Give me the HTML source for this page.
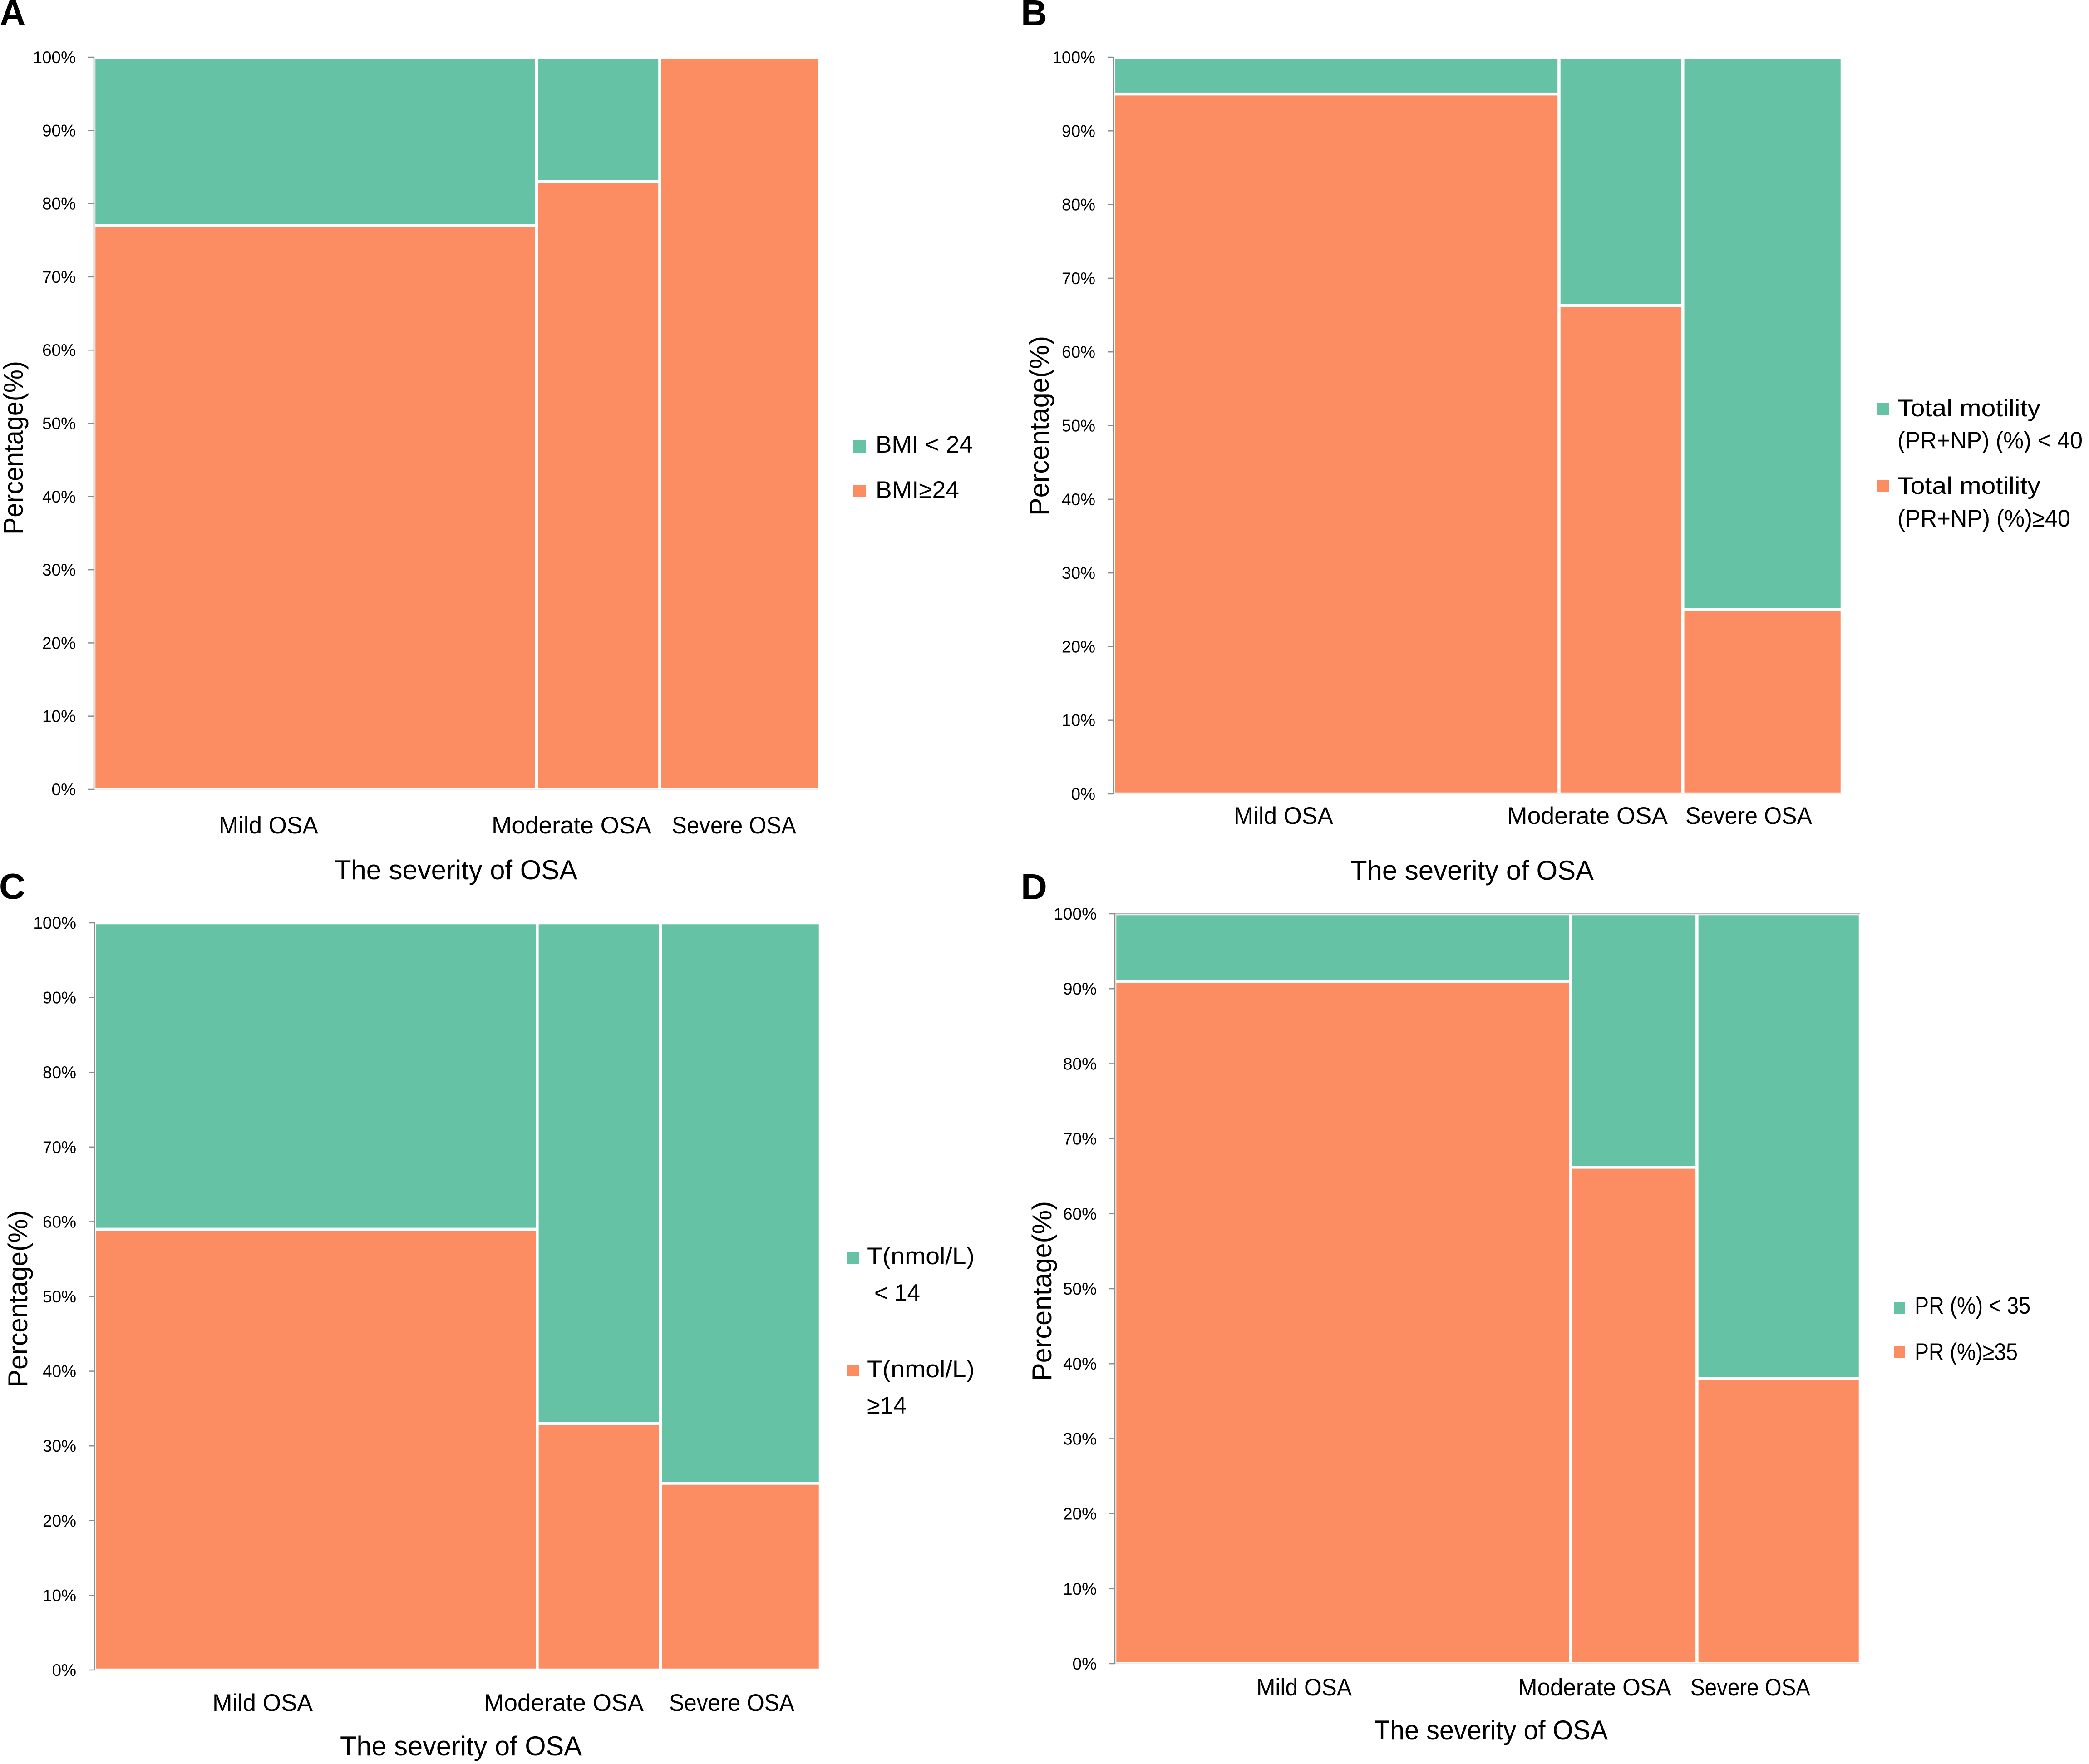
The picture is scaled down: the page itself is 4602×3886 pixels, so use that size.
<!DOCTYPE html>
<html lang="en">
<head>
<meta charset="utf-8">
<title>Mosaic plots of OSA severity</title>
<style>
  html, body { margin: 0; padding: 0; background: #ffffff; }
  svg { display: block; }
  text { font-family: "Liberation Sans", sans-serif; fill: #000000; }
  .panel-letter { font-size: 80px; font-weight: 700; }
  .axis-title { font-size: 60px; }
  .cat-label, .legend-text { font-size: 53px; }
  .tick-label { font-size: 37px; }
</style>
</head>
<body>
<svg id="figure" xmlns="http://www.w3.org/2000/svg" width="4602" height="3886" viewBox="0 0 4602 3886">
  <rect x="0" y="0" width="4602" height="3886" fill="#ffffff"/>

  <g id="panel-a">
    <text class="panel-letter" x="-1" y="56">A</text>
    <text class="axis-title" transform="translate(50,1178) rotate(-90)" x="0" y="0" textLength="383" lengthAdjust="spacingAndGlyphs">Percentage(%)</text>
    <text class="axis-title" x="737" y="1937" textLength="535" lengthAdjust="spacingAndGlyphs">The severity of OSA</text>
    <rect x="1880" y="970" width="27" height="27" fill="#66c2a5"/>
    <text class="legend-text" x="1929" y="997" textLength="214" lengthAdjust="spacingAndGlyphs">BMI &lt; 24</text>
    <rect x="1880" y="1068" width="27" height="27" fill="#fc8d62"/>
    <text class="legend-text" x="1929" y="1097" textLength="184" lengthAdjust="spacingAndGlyphs">BMI≥24</text>
  </g>

  <g id="panel-b">
    <text class="panel-letter" x="2249" y="56">B</text>
    <text class="axis-title" transform="translate(2310,1136) rotate(-90)" x="0" y="0" textLength="396" lengthAdjust="spacingAndGlyphs">Percentage(%)</text>
    <text class="axis-title" x="2975" y="1938" textLength="536" lengthAdjust="spacingAndGlyphs">The severity of OSA</text>
    <rect x="4136" y="888" width="26" height="26" fill="#66c2a5"/>
    <text class="legend-text" x="4180" y="917" textLength="315" lengthAdjust="spacingAndGlyphs">Total motility</text>
    <text class="legend-text" x="4180" y="988" textLength="408" lengthAdjust="spacingAndGlyphs">(PR+NP) (%) &lt; 40</text>
    <rect x="4136" y="1057" width="26" height="26" fill="#fc8d62"/>
    <text class="legend-text" x="4180" y="1088" textLength="315" lengthAdjust="spacingAndGlyphs">Total motility</text>
    <text class="legend-text" x="4180" y="1160" textLength="381" lengthAdjust="spacingAndGlyphs">(PR+NP) (%)≥40</text>
  </g>

  <g id="panel-c">
    <text class="panel-letter" x="-2" y="1980">C</text>
    <text class="axis-title" transform="translate(60,3056) rotate(-90)" x="0" y="0" textLength="390" lengthAdjust="spacingAndGlyphs">Percentage(%)</text>
    <text class="axis-title" x="749" y="3867" textLength="533" lengthAdjust="spacingAndGlyphs">The severity of OSA</text>
    <rect x="1866" y="2759" width="26" height="26" fill="#66c2a5"/>
    <text class="legend-text" x="1910" y="2785" textLength="237" lengthAdjust="spacingAndGlyphs">T(nmol/L)</text>
    <text class="legend-text" x="1926" y="2866" textLength="101" lengthAdjust="spacingAndGlyphs">&lt; 14</text>
    <rect x="1866" y="3006" width="26" height="26" fill="#fc8d62"/>
    <text class="legend-text" x="1910" y="3034" textLength="237" lengthAdjust="spacingAndGlyphs">T(nmol/L)</text>
    <text class="legend-text" x="1910" y="3114" textLength="87" lengthAdjust="spacingAndGlyphs">≥14</text>
  </g>

  <g id="panel-d">
    <text class="panel-letter" x="2249" y="1981">D</text>
    <text class="axis-title" transform="translate(2316,3042) rotate(-90)" x="0" y="0" textLength="396" lengthAdjust="spacingAndGlyphs">Percentage(%)</text>
    <text class="axis-title" x="3027" y="3832" textLength="515" lengthAdjust="spacingAndGlyphs">The severity of OSA</text>
    <rect x="4172" y="2868" width="25" height="26" fill="#66c2a5"/>
    <text class="legend-text" x="4218" y="2894" textLength="255" lengthAdjust="spacingAndGlyphs">PR (%) &lt; 35</text>
    <rect x="4172" y="2966" width="25" height="26" fill="#fc8d62"/>
    <text class="legend-text" x="4218" y="2996" textLength="227" lengthAdjust="spacingAndGlyphs">PR (%)≥35</text>
  </g>
</svg>

<script>
// ---- chart data ----
const categories = ['Mild OSA', 'Moderate OSA', 'Severe OSA'];
const tickValues = [0, 10, 20, 30, 40, 50, 60, 70, 80, 90, 100];

// Column widths (share of patients, %) per panel
const columnSharesA = [61, 17, 22];
const columnSharesB = [61.15, 17, 21.85];
const columnSharesC = [61, 17, 22];
const columnSharesD = [61.1, 17, 21.9];

// Orange segment height (% of each column); green fills the rest up to 100
const lowerValuesA = [77, 83, 100];
const lowerValuesB = [95, 66.3, 25];
const lowerValuesC = [59, 33, 25];
const lowerValuesD = [91, 66.2, 38];

// ---- layout (not data) ----
const SVG_NS = 'http://www.w3.org/2000/svg';
const GREEN = '#66c2a5';
const ORANGE = '#fc8d62';
const INSET = 3.25;

const panels = [
  { id: 'a', shares: columnSharesA, lower: lowerValuesA, x0: 207, x1: 1805, y0: 1739, y100: 126,
    labelBaseline: 1836, labelSpans: [[482, 701], [1083, 1435], [1480, 1754]], topLine: false },
  { id: 'b', shares: columnSharesB, lower: lowerValuesB, x0: 2453, x1: 4058, y0: 1749, y100: 126,
    labelBaseline: 1815, labelSpans: [[2718, 2937], [3320, 3674], [3713, 3992]], topLine: false },
  { id: 'c', shares: columnSharesC, lower: lowerValuesC, x0: 208, x1: 1807, y0: 3679, y100: 2033,
    labelBaseline: 3769, labelSpans: [[468, 689], [1066, 1418], [1474, 1750]], topLine: false },
  { id: 'd', shares: columnSharesD, lower: lowerValuesD, x0: 2456, x1: 4098, y0: 3665, y100: 2013,
    labelBaseline: 3735, labelSpans: [[2768, 2978], [3344, 3682], [3724, 3988]], topLine: true }
];

function svgEl(tag, attrs) {
  const el = document.createElementNS(SVG_NS, tag);
  for (const key in attrs) {
    el.setAttribute(key, attrs[key]);
  }
  return el;
}

function drawPanel(p) {
  const group = document.getElementById('panel-' + p.id);
  const totalShare = p.shares.reduce(function (a, b) { return a + b; }, 0);
  const xScale = function (share) { return p.x0 + (share / totalShare) * (p.x1 - p.x0); };
  const yScale = function (value) { return p.y0 + (value / 100) * (p.y100 - p.y0); };

  // mosaic segments
  let cumulative = 0;
  p.shares.forEach(function (share, i) {
    const left = xScale(cumulative) + INSET;
    const right = xScale(cumulative + share) - INSET;
    cumulative += share;
    const split = yScale(p.lower[i]);
    const catKey = categories[i].split(' ')[0].toLowerCase();

    const upperHeight = split - INSET - (yScale(100) + INSET);
    if (upperHeight > 0) {
      const upper = svgEl('rect', { x: left, y: yScale(100) + INSET, width: right - left, height: upperHeight, fill: GREEN });
      
      
      group.appendChild(upper);
    }
    const lowerTop = p.lower[i] >= 100 ? yScale(100) + INSET : split + INSET;
    const lower = svgEl('rect', { x: left, y: lowerTop, width: right - left, height: yScale(0) - INSET - lowerTop, fill: ORANGE });
    
    
    group.appendChild(lower);

    // category label
    const span = p.labelSpans[i];
    const label = svgEl('text', { class: 'cat-label', x: span[0], y: p.labelBaseline, textLength: span[1] - span[0], lengthAdjust: 'spacingAndGlyphs' });
    label.textContent = categories[i];
    
    
    group.appendChild(label);
  });

  // faint x-axis baseline
  const baseline = svgEl('line', { x1: p.x0, x2: p.x1, y1: yScale(0), y2: yScale(0), stroke: '#ececec', 'stroke-width': 2 });
  
  
  group.appendChild(baseline);

  if (p.topLine) {
    const topLine = svgEl('line', { x1: p.x0, x2: p.x1, y1: yScale(100), y2: yScale(100), stroke: '#b4b4b4', 'stroke-width': 2.5 });
    
    
    group.appendChild(topLine);
  }

  // y axis line
  const axis = svgEl('line', { x1: p.x0, x2: p.x0, y1: yScale(100) - 1, y2: yScale(0) + 1, stroke: '#8c8c8c', 'stroke-width': 2.5 });
  
  
  group.appendChild(axis);

  // ticks and tick labels
  tickValues.forEach(function (value) {
    const y = yScale(value);
    const tick = svgEl('line', { x1: p.x0 - 13, x2: p.x0, y1: y, y2: y, stroke: '#8c8c8c', 'stroke-width': 2.5 });
    
    
    group.appendChild(tick);

    const label = svgEl('text', { class: 'tick-label', x: p.x0 - 40, y: y + 13, 'text-anchor': 'end' });
    label.textContent = value + '%';
    
    
    group.appendChild(label);
  });
}

panels.forEach(drawPanel);
</script>
</body>
</html>
